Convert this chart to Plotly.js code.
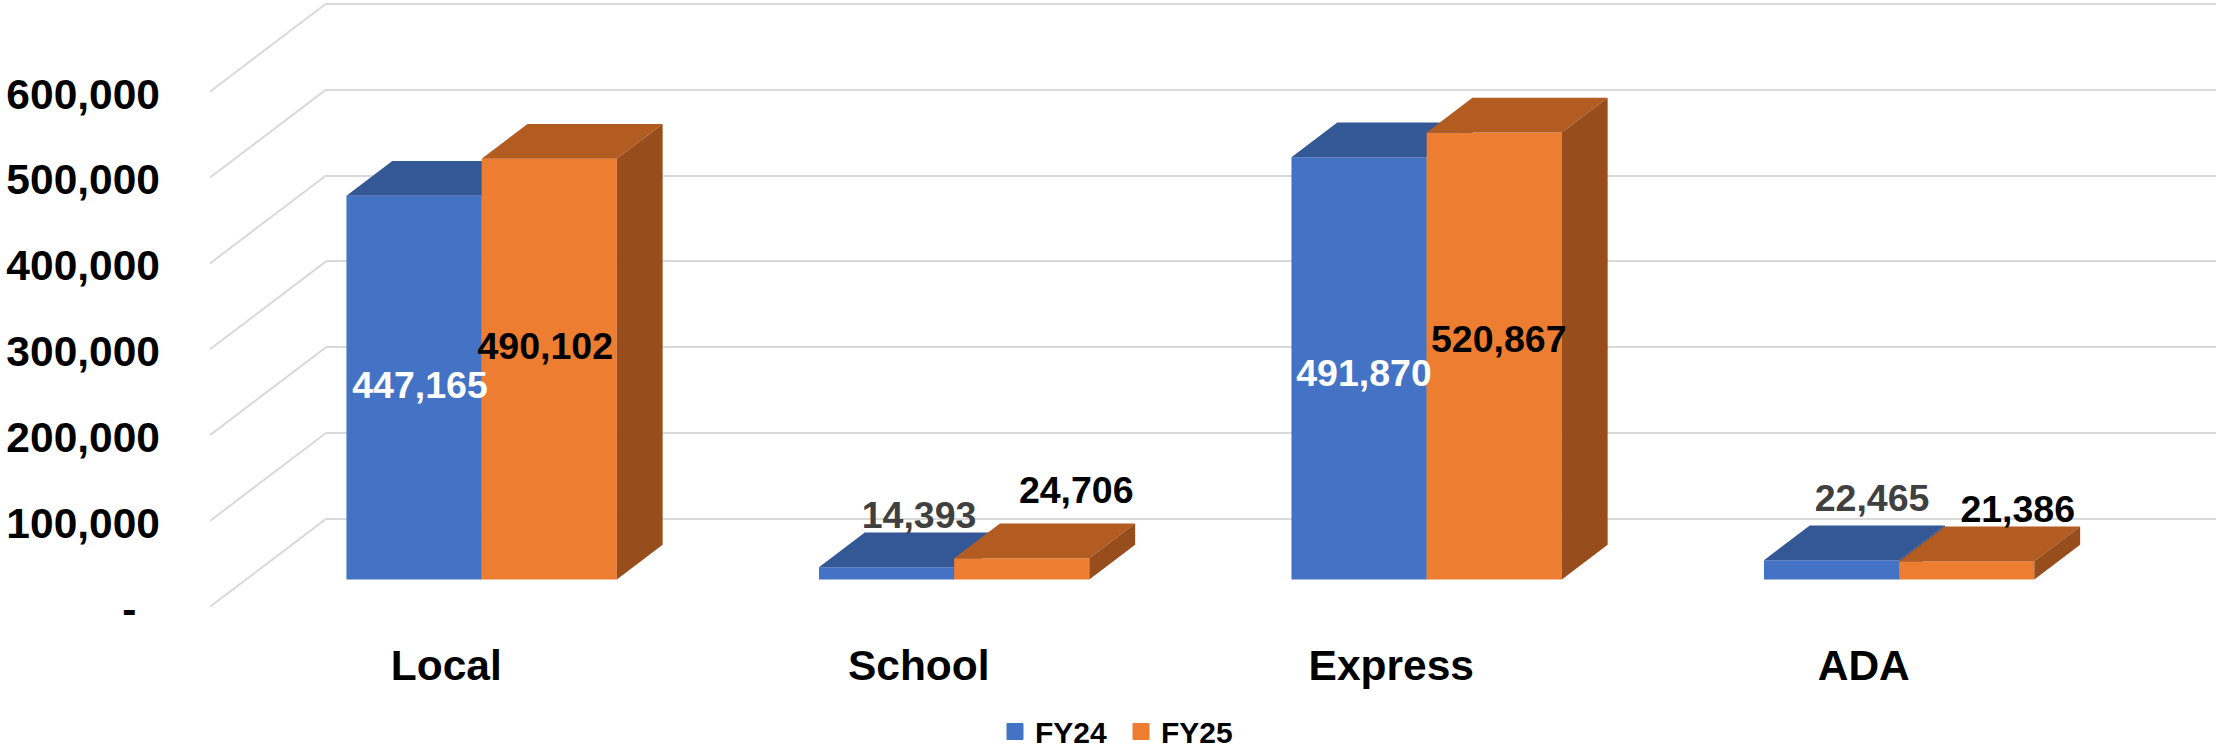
<!DOCTYPE html>
<html>
<head>
<meta charset="utf-8">
<script src="https://cdn.plot.ly/plotly-3.0.1.min.js"></script>
<style>html,body{margin:0;padding:0;background:#fff}#chart{width:2216px;height:749px}</style>
</head>
<body>
<div id="chart"></div>
<script>
// ---- data ----
const categories = ["Local", "School", "Express", "ADA"];
const fy24 = [447165, 14393, 491870, 22465];
const fy25 = [490102, 24706, 520867, 21386];
const tickValues = [0, 100000, 200000, 300000, 400000, 500000, 600000];
const tickLabels = ["-\u00A0\u00A0", "100,000", "200,000", "300,000", "400,000", "500,000", "600,000"];

// ---- look and layout ----
const W = 2216, H = 749;
const FONT = "Liberation Sans, Arial, sans-serif";
const marginLeft = 210, marginBottom = 114;
const plotW = W - marginLeft, plotH = H - marginBottom;
const slotPx = 472.5;               // width of one category slot
const wallDxPx = 116, wallDyPx = 87.9;   // oblique offset, floor front to back wall
const pxPerUnit = 85.85 / 100000;   // vertical scale
const zeroPx = 606.8;               // y pixel of value 0 on the front plane
const depthX = wallDxPx / slotPx;
const depthY = wallDyPx / pxPerUnit;
const barFront = 0.31, barBack = 0.705;   // bar depth, as a fraction of the floor
const barOffset24 = -0.2112, barOffset25 = 0.0749, barWidth = 0.2861;
const cBlue = "#4472C4", cBlueTop = "#345895", cBlueSide = "#2A4A80";
const cOrange = "#ED7D31", cOrangeTop = "#B25C21", cOrangeSide = "#974D1C";
const cGrid = "#D9D9D9";
// nudges of the data labels from the middle of each bar's front face, in pixels
const labelDx24 = [6, 32.5, 5, 40.5], labelUp24 = [-1, 54.4, -8.5, 68];
const labelDx25 = [-4, 54.5, 4.5, 51], labelUp25 = [20, 75, 13, 57.5];
const labelColors24 = ["#FFFFFF", "#404040", "#FFFFFF", "#404040"];

const xRange = [-0.5, -0.5 + plotW / slotPx];
const frontLow = -(plotH - zeroPx) / pxPerUnit, frontHigh = zeroPx / pxPerUnit;
const yFrontRange = [frontLow, frontHigh];
const yBackRange = [frontLow - depthY, frontHigh - depthY];

const idx = categories.map((_, i) => i);
const base = barFront * depthY;
const dX = (barBack - barFront) * depthX, dY = (barBack - barFront) * depthY;

function polys(values, offset, face) {
  const xs = [], ys = [];
  values.forEach((v, i) => {
    const l = i + offset, r = l + barWidth;
    const pts = face === "top"
      ? [[l, base + v], [r, base + v], [r + dX, base + v + dY], [l + dX, base + v + dY], [l, base + v]]
      : [[r, base], [r + dX, base + dY], [r + dX, base + v + dY], [r, base + v], [r, base]];
    pts.forEach(p => { xs.push(p[0]); ys.push(p[1]); });
    xs.push(null); ys.push(null);
  });
  return { x: xs, y: ys };
}
function face(values, offset, kind, color, xa, ya) {
  const p = polys(values, offset, kind);
  return { type: "scatter", mode: "none", fill: "toself", fillcolor: color, x: p.x, y: p.y,
           xaxis: xa, yaxis: ya, showlegend: false, hoverinfo: "skip" };
}
function bars(name, values, offset, color, xa, ya) {
  return { type: "bar", name: name, x: idx, y: values, base: values.map(() => base),
           width: barWidth, offset: offset, marker: { color: color, line: { width: 0 } },
           xaxis: xa, yaxis: ya, showlegend: false, hoverinfo: "skip" };
}
function labels(values, offset, dx, up, colors, xa, ya) {
  return { type: "scatter", mode: "text",
           x: values.map((_, i) => i + offset + barWidth / 2 + dx[i] / slotPx),
           y: values.map((v, i) => base + v / 2 + up[i] / pxPerUnit),
           text: values.map(v => v.toLocaleString("en-US")),
           textposition: "middle center", cliponaxis: false,
           textfont: { family: FONT, size: 37.5, weight: 700, color: colors },
           xaxis: xa, yaxis: ya, showlegend: false, hoverinfo: "skip" };
}
function legendEntry(name, color) {
  return { type: "scatter", mode: "markers", name: name, x: [null], y: [null],
           marker: { symbol: "square", size: 16, color: color, line: { width: 1, color: color } },
           xaxis: "x2", yaxis: "y2", hoverinfo: "skip" };
}

// floor and side-wall diagonals, one for each value tick
const diagX = [], diagY = [];
tickValues.forEach(v => {
  diagX.push(-0.5, -0.5 + depthX, null);
  diagY.push(v, v + depthY, null);
});

const traces = [
  // back wall gridlines come from the lowest subplot's axis (x / y)
  { type: "scatter", mode: "lines", x: [diagX[0]], y: [0], xaxis: "x", yaxis: "y", showlegend: false,
    hoverinfo: "skip", line: { width: 0 } },
  { type: "scatter", mode: "lines", x: diagX, y: diagY, line: { color: cGrid, width: 2 },
    xaxis: "x2", yaxis: "y2", showlegend: false, hoverinfo: "skip", cliponaxis: false },
  bars("FY24", fy24, barOffset24, cBlue, "x2", "y2"),
  face(fy24, barOffset24, "top", cBlueTop, "x2", "y2"),
  face(fy24, barOffset24, "side", cBlueSide, "x2", "y2"),
  bars("FY25", fy25, barOffset25, cOrange, "x3", "y3"),
  face(fy25, barOffset25, "top", cOrangeTop, "x3", "y3"),
  face(fy25, barOffset25, "side", cOrangeSide, "x3", "y3"),
  labels(fy24, barOffset24, labelDx24, labelUp24, labelColors24, "x3", "y3"),
  labels(fy25, barOffset25, labelDx25, labelUp25, categories.map(() => "#000000"), "x3", "y3"),
  legendEntry("FY24", cBlue),
  legendEntry("FY25", cOrange)
];

const hiddenX = { showgrid: false, zeroline: false, showticklabels: false, ticks: "", showline: false };

const layout = {
  width: W, height: H,
  margin: { l: marginLeft, r: 0, t: 0, b: marginBottom, pad: 0, autoexpand: false },
  paper_bgcolor: "#FFFFFF", plot_bgcolor: "rgba(0,0,0,0)",
  barmode: "overlay", hovermode: false,
  showlegend: true,
  legend: { orientation: "h", x: (995 - marginLeft) / plotW, xanchor: "left",
            y: -(731.5 - plotH) / plotH, yanchor: "middle",
            font: { family: FONT, size: 30, weight: 700, color: "#000000" },
            entrywidth: 81, entrywidthmode: "pixels", bgcolor: "rgba(0,0,0,0)",
            tracegroupgap: 0 },
  // back wall
  xaxis: Object.assign({ domain: [wallDxPx / plotW, 1], range: [-0.5, 3.5], anchor: "y", fixedrange: true }, hiddenX),
  yaxis: { domain: [0, 1], range: yBackRange, anchor: "x", tickmode: "array", tickvals: tickValues,
           showticklabels: false, ticks: "", showgrid: true, gridcolor: cGrid, gridwidth: 2,
           zeroline: false, showline: false, fixedrange: true },
  // front plane: category labels and value labels
  xaxis2: { domain: [0, 1], range: xRange, anchor: "y2", tickmode: "array", tickvals: idx, ticktext: categories,
            tickfont: { family: FONT, size: 42.5, weight: 700, color: "#000000" }, ticks: "", showgrid: false,
            zeroline: false, showline: false, fixedrange: true, automargin: false, ticklabelstandoff: 1 },
  yaxis2: { domain: [0, 1], range: yFrontRange, anchor: "x2", tickmode: "array", tickvals: tickValues, ticktext: tickLabels,
            tickfont: { family: FONT, size: 42.5, weight: 700, color: "#000000" }, ticks: "", showgrid: false,
            zeroline: false, showline: false, fixedrange: true, automargin: false, ticklabelstandoff: 49, ticklabelshift: 2 },
  // upper layer of the same front plane, so FY25 sits in front of FY24
  xaxis3: Object.assign({ overlaying: "x2", range: xRange, anchor: "y3", fixedrange: true }, hiddenX),
  yaxis3: Object.assign({ overlaying: "y2", range: yFrontRange, anchor: "x3", fixedrange: true }, hiddenX)
};

Plotly.newPlot("chart", traces, layout, { displayModeBar: false, responsive: false });
</script>
</body>
</html>
